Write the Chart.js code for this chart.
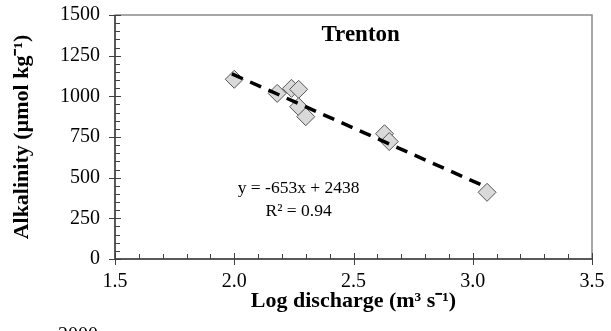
<!DOCTYPE html>
<html lang="en">
<head>
<meta charset="UTF-8">
<title>Trenton</title>
<script src="https://cdn.jsdelivr.net/npm/chart.js@4.4.1/dist/chart.umd.min.js"></script>
<style>
  body { margin: 0; background: #fff; }
  #wrap { width: 611px; height: 331px; }
</style>
</head>
<body>
<div id="wrap"><canvas id="c"></canvas></div>
<script>
  // observations: log discharge vs alkalinity
  const logQ = [2.00, 2.18, 2.24, 2.27, 2.27, 2.30, 2.63, 2.65, 3.06];
  const alk = [1105, 1018, 1049, 1043, 936, 875, 770, 722, 410];
  // regression line ends, as drawn
  const fitX = [1.99, 3.06];
  const fitY = [1138, 440];
  const eqText = ['y = -653x + 2438', 'R\u00b2 = 0.94'];
  const xTicks = [1.5, 2.0, 2.5, 3.0, 3.5];
  const yTicks = [0, 250, 500, 750, 1000, 1250, 1500];

  const serif = '"Liberation Serif", "Times New Roman", serif';

  const decor = {
    id: 'decor',
    beforeDatasetsDraw(chart) {
      const {ctx, chartArea: a, scales: {x, y}} = chart;
      ctx.save();
      ctx.strokeStyle = '#8a8a8a';
      ctx.lineWidth = 1.5;
      ctx.strokeRect(a.left, a.top, a.right - a.left, a.bottom - a.top);
      ctx.strokeStyle = '#404040';
      ctx.lineWidth = 1.5;
      ctx.beginPath();
      ctx.moveTo(a.left, a.top); ctx.lineTo(a.left, a.bottom); ctx.lineTo(a.right, a.bottom);
      ctx.stroke();
      ctx.lineWidth = 1;
      ctx.beginPath();
      // y ticks: majors cross, minors inside
      for (let v = 0; v <= 1500; v += 50) {
        const py = Math.round(y.getPixelForValue(v)) + 0.5;
        if (v % 250 === 0) { ctx.moveTo(a.left - 6, py); ctx.lineTo(a.left + 6, py); }
        else { ctx.moveTo(a.left, py); ctx.lineTo(a.left + 5, py); }
      }
      for (let i = 15; i <= 35; i++) {
        const px = Math.round(x.getPixelForValue(i / 10)) + 0.5;
        if (i % 5 === 0) { ctx.moveTo(px, a.bottom - 6); ctx.lineTo(px, a.bottom + 6); }
        else { ctx.moveTo(px, a.bottom); ctx.lineTo(px, a.bottom - 5); }
      }
      ctx.stroke();
      ctx.restore();
    },
    afterDraw(chart) {
      const {ctx, scales: {x, y}} = chart;
      ctx.save();
      ctx.fillStyle = '#000';
      ctx.textAlign = 'center';
      ctx.textBaseline = 'middle';
      ctx.font = 'bold 23px ' + serif;
      ctx.fillText('Trenton', x.getPixelForValue(2.53), y.getPixelForValue(1375));
      ctx.font = '17.5px ' + serif;
      ctx.fillText(eqText[0], x.getPixelForValue(2.27), y.getPixelForValue(436));
      ctx.fillText(eqText[1], x.getPixelForValue(2.27), y.getPixelForValue(295));
      // top of the next panel's axis label, cut by the frame
      ctx.font = '20px ' + serif;
      ctx.textBaseline = 'top';
      ctx.fillText('2000', 78, 326);
      ctx.restore();
    }
  };

  new Chart(document.getElementById('c'), {
    type: 'scatter',
    data: {
      datasets: [{
        type: 'line',
        data: fitX.map((v, i) => ({x: v, y: fitY[i]})),
        borderColor: '#000',
        borderWidth: 3.5,
        borderDash: [12, 8],
        pointRadius: 0,
        fill: false,
        order: 0
      }, {
        data: logQ.map((v, i) => ({x: v, y: alk[i]})),
        pointStyle: 'rectRot',
        pointRadius: 9,
        pointBackgroundColor: '#d9d9d9',
        pointBorderColor: '#555',
        pointBorderWidth: 1,
        order: 1
      }]
    },
    options: {
      responsive: true,
      maintainAspectRatio: false,
      animation: false,
      layout: { padding: { top: 15, right: 19, left: 0, bottom: 0 } },
      plugins: { legend: { display: false }, tooltip: { enabled: false } },
      scales: {
        x: {
          type: 'linear', min: 1.5, max: 3.5,
          afterBuildTicks: s => { s.ticks = xTicks.map(v => ({value: v})); },
          afterFit: s => { s.height = 72; s.paddingLeft = 0; s.paddingRight = 0; },
          grid: { display: false, drawTicks: false },
          border: { display: false },
          ticks: { padding: 11, color: '#000', font: { family: serif, size: 20 },
                   callback: v => v.toFixed(1), maxRotation: 0 },
          title: { display: true, text: 'Log discharge (m\u00b3 s\u207b\u00b9)', color: '#000',
                   font: { family: serif, size: 22, weight: 'bold' }, padding: { top: 0, bottom: 16 } }
        },
        y: {
          type: 'linear', min: 0, max: 1500,
          afterBuildTicks: s => { s.ticks = yTicks.map(v => ({value: v})); },
          afterFit: s => { s.width = 115; s.paddingTop = 0; s.paddingBottom = 0; },
          grid: { display: false, drawTicks: false },
          border: { display: false },
          ticks: { padding: 15, color: '#000', font: { family: serif, size: 20 },
                   callback: v => String(v) },
          title: { display: true, text: 'Alkalinity (\u00b5mol kg\u207b\u00b9)', color: '#000',
                   font: { family: serif, size: 22, weight: 'bold' }, padding: { top: 9, bottom: 0 } }
        }
      }
    },
    plugins: [decor]
  });
</script>
</body>
</html>
